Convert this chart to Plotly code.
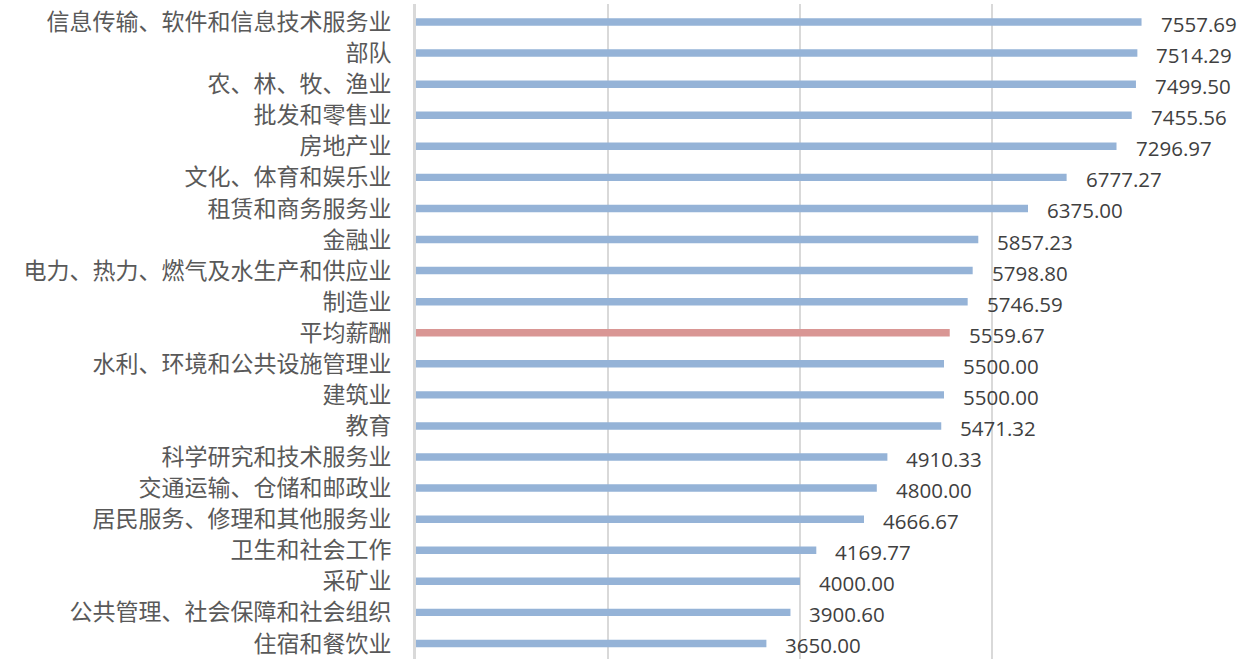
import plotly.graph_objects as go

categories = ["信息传输、软件和信息技术服务业", "部队", "农、林、牧、渔业", "批发和零售业", "房地产业",
              "文化、体育和娱乐业", "租赁和商务服务业", "金融业", "电力、热力、燃气及水生产和供应业", "制造业",
              "平均薪酬", "水利、环境和公共设施管理业", "建筑业", "教育", "科学研究和技术服务业",
              "交通运输、仓储和邮政业", "居民服务、修理和其他服务业", "卫生和社会工作", "采矿业",
              "公共管理、社会保障和社会组织", "住宿和餐饮业"]
values = [7557.69, 7514.29, 7499.50, 7455.56, 7296.97, 6777.27, 6375.00, 5857.23, 5798.80, 5746.59,
          5559.67, 5500.00, 5500.00, 5471.32, 4910.33, 4800.00, 4666.67, 4169.77, 4000.00, 3900.60, 3650.00]
highlight = "平均薪酬"

colors = ["#D99694" if c == highlight else "#95B3D7" for c in categories]

fig = go.Figure(go.Bar(
    x=values, y=categories, orientation="h", marker=dict(color=colors, line=dict(width=0)),
    width=0.24, hoverinfo="x+y"))

for c, v in zip(categories, values):
    fig.add_annotation(x=v, y=c, text=f"{v:.2f}", showarrow=False, xanchor="left", xshift=17, yshift=-2,
                       font=dict(family="Open Sans", size=20.5, color="#404040"))

fig.update_layout(
    width=1246, height=659, margin=dict(l=416, r=62, t=4, b=0),
    plot_bgcolor="white", paper_bgcolor="white", showlegend=False,
    xaxis=dict(range=[0, 8000], dtick=2000, showticklabels=False, showgrid=True, gridcolor="#D9D9D9",
               gridwidth=1.5, zeroline=False, fixedrange=True),
    yaxis=dict(categoryorder="array", categoryarray=categories, autorange="reversed",
               showline=True, linecolor="#D9D9D9", linewidth=3, ticks="", ticklabelstandoff=17,
               tickfont=dict(family="Noto Sans CJK SC", size=23, color="#595959")),
)

fig.write_html("out.html", config={"displayModeBar": False},
               post_script="document.body.style.margin='0';document.body.style.overflow='hidden';")
